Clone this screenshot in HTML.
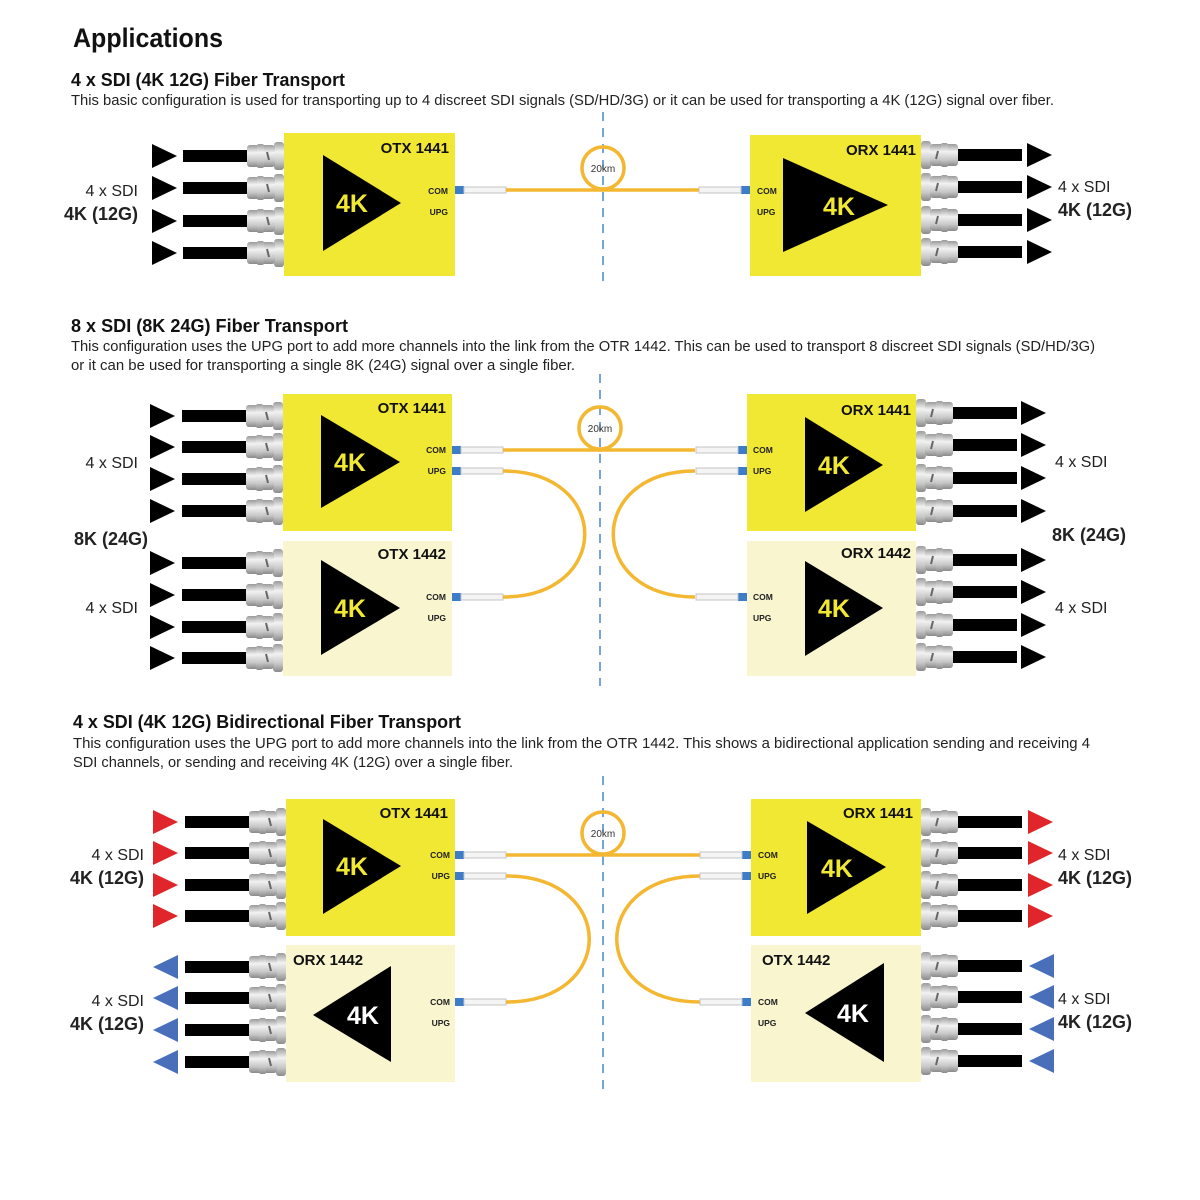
<!DOCTYPE html>
<html><head><meta charset="utf-8"><style>
html,body{margin:0;padding:0;background:#fff;width:1200px;height:1200px;overflow:hidden}
svg{display:block}
text{font-family:"Liberation Sans",sans-serif}
.h{font-weight:bold;font-size:18px;fill:#111}
.p{font-size:14.5px;fill:#222}
.bl{font-weight:bold;font-size:15px;fill:#111}
.sm{font-weight:bold;font-size:8.5px;fill:#222}
.k{font-weight:bold;font-size:25px}
.s1{font-size:16px;fill:#222}
.s2{font-weight:bold;font-size:18px;fill:#222}
.km{font-size:10px;fill:#333}
</style></head><body>
<svg width="1200" height="1200" viewBox="0 0 1200 1200" xmlns="http://www.w3.org/2000/svg">
<defs>
<linearGradient id="g" x1="0" y1="0" x2="0" y2="1">
<stop offset="0" stop-color="#9a9a9a"/><stop offset="0.35" stop-color="#f2f2f2"/><stop offset="0.7" stop-color="#c8c8c8"/><stop offset="1" stop-color="#8a8a8a"/></linearGradient>
<g id="b">
<rect x="0" y="-14" width="10" height="28" rx="3" fill="url(#g)"/>
<rect x="9" y="-11" width="28" height="22" rx="3" fill="url(#g)"/>
<rect x="20" y="-12" width="7" height="24" rx="2" fill="url(#g)"/>
<line x1="17" y1="-4" x2="15" y2="4" stroke="#666" stroke-width="2"/>
</g>
<g id="ro"><use href="#b"/><rect x="37" y="-6" width="64" height="12" fill="#000"/></g>
<g id="fc"><rect x="0" y="-4" width="9" height="8" fill="#3d7cc9"/><rect x="9" y="-3" width="42" height="6" fill="#f4f4f4" stroke="#c4c4c4" stroke-width="1"/></g>
<polygon id="ar" points="0,-12 0,12 25,0" fill="#000"/>
<polygon id="arR" points="0,-12 0,12 25,0" fill="#e0262a"/>
<polygon id="arB" points="25,-12 25,12 0,0" fill="#4a6fba"/>
</defs>

<text x="73" y="47" style="font-weight:bold;font-size:27px;fill:#111" textLength="150" lengthAdjust="spacingAndGlyphs">Applications</text>

<!-- ===== Section 1 ===== -->
<text x="71" y="86" class="h" textLength="274" lengthAdjust="spacingAndGlyphs">4 x SDI (4K 12G) Fiber Transport</text>
<text x="71" y="105" class="p" textLength="983" lengthAdjust="spacingAndGlyphs">This basic configuration is used for transporting up to 4 discreet SDI signals (SD/HD/3G) or it can be used for transporting a 4K (12G) signal over fiber.</text>
<line x1="603" y1="112" x2="603" y2="282" stroke="#4a86c8" stroke-width="1.5" stroke-dasharray="9,7"/>

<rect x="284" y="133" width="171" height="143" fill="#f1e833"/>
<polygon points="323,155 323,251 401,203" fill="#000"/>
<text x="352" y="212" class="k" fill="#f1e833" text-anchor="middle">4K</text>
<text x="449" y="153" class="bl" text-anchor="end">OTX 1441</text>
<text x="448" y="194" class="sm" text-anchor="end">COM</text>
<text x="448" y="215" class="sm" text-anchor="end">UPG</text>
<g transform="translate(284,156) scale(-1,1)"><use href="#ro"/></g>
<g transform="translate(284,188) scale(-1,1)"><use href="#ro"/></g>
<g transform="translate(284,221) scale(-1,1)"><use href="#ro"/></g>
<g transform="translate(284,253) scale(-1,1)"><use href="#ro"/></g>
<use href="#ar" x="152" y="156"/><use href="#ar" x="152" y="188"/><use href="#ar" x="152" y="221"/><use href="#ar" x="152" y="253"/>
<text x="138" y="196" class="s1" text-anchor="end">4 x SDI</text>
<text x="138" y="220" class="s2" text-anchor="end">4K (12G)</text>

<use href="#fc" x="455" y="190"/>
<line x1="506" y1="190" x2="700" y2="190" stroke="#f4b731" stroke-width="3.5"/>
<circle cx="603" cy="168" r="21" fill="none" stroke="#f4b731" stroke-width="3.5"/>
<text x="603" y="172" class="km" text-anchor="middle">20km</text>
<g transform="translate(750,190) scale(-1,1)"><use href="#fc"/></g>

<rect x="750" y="135" width="171" height="141" fill="#f1e833"/>
<polygon points="783,158 783,252 888,205" fill="#000"/>
<text x="839" y="215" class="k" fill="#f1e833" text-anchor="middle">4K</text>
<text x="916" y="155" class="bl" text-anchor="end">ORX 1441</text>
<text x="757" y="194" class="sm">COM</text>
<text x="757" y="215" class="sm">UPG</text>
<use href="#ro" x="921" y="155"/><use href="#ro" x="921" y="187"/><use href="#ro" x="921" y="220"/><use href="#ro" x="921" y="252"/>
<use href="#ar" x="1027" y="155"/><use href="#ar" x="1027" y="187"/><use href="#ar" x="1027" y="220"/><use href="#ar" x="1027" y="252"/>
<text x="1058" y="192" class="s1">4 x SDI</text>
<text x="1058" y="216" class="s2">4K (12G)</text>

<!-- ===== Section 2 ===== -->
<text x="71" y="332" class="h" textLength="277" lengthAdjust="spacingAndGlyphs">8 x SDI (8K 24G) Fiber Transport</text>
<text x="71" y="351" class="p" textLength="1024" lengthAdjust="spacingAndGlyphs">This configuration uses the UPG port to add more channels into the link from the OTR 1442. This can be used to transport 8 discreet SDI signals (SD/HD/3G)</text>
<text x="71" y="370" class="p" textLength="504" lengthAdjust="spacingAndGlyphs">or it can be used for transporting a single 8K (24G) signal over a single fiber.</text>
<line x1="600" y1="374" x2="600" y2="686" stroke="#4a86c8" stroke-width="1.5" stroke-dasharray="9,7"/>

<rect x="283" y="394" width="169" height="137" fill="#f1e833"/>
<rect x="283" y="541" width="169" height="135" fill="#f8f5cf"/>
<polygon points="321,415 321,508 400,462" fill="#000"/>
<text x="350" y="471" class="k" fill="#f1e833" text-anchor="middle">4K</text>
<polygon points="321,560 321,655 400,608" fill="#000"/>
<text x="350" y="617" class="k" fill="#f1e833" text-anchor="middle">4K</text>
<text x="446" y="413" class="bl" text-anchor="end">OTX 1441</text>
<text x="446" y="559" class="bl" text-anchor="end">OTX 1442</text>
<text x="446" y="453" class="sm" text-anchor="end">COM</text>
<text x="446" y="474" class="sm" text-anchor="end">UPG</text>
<text x="446" y="600" class="sm" text-anchor="end">COM</text>
<text x="446" y="621" class="sm" text-anchor="end">UPG</text>
<g transform="translate(283,416) scale(-1,1)"><use href="#ro"/></g>
<g transform="translate(283,447) scale(-1,1)"><use href="#ro"/></g>
<g transform="translate(283,479) scale(-1,1)"><use href="#ro"/></g>
<g transform="translate(283,511) scale(-1,1)"><use href="#ro"/></g>
<g transform="translate(283,563) scale(-1,1)"><use href="#ro"/></g>
<g transform="translate(283,595) scale(-1,1)"><use href="#ro"/></g>
<g transform="translate(283,627) scale(-1,1)"><use href="#ro"/></g>
<g transform="translate(283,658) scale(-1,1)"><use href="#ro"/></g>
<use href="#ar" x="150" y="416"/><use href="#ar" x="150" y="447"/><use href="#ar" x="150" y="479"/><use href="#ar" x="150" y="511"/>
<use href="#ar" x="150" y="563"/><use href="#ar" x="150" y="595"/><use href="#ar" x="150" y="627"/><use href="#ar" x="150" y="658"/>
<text x="138" y="468" class="s1" text-anchor="end">4 x SDI</text>
<text x="148" y="545" class="s2" text-anchor="end">8K (24G)</text>
<text x="138" y="613" class="s1" text-anchor="end">4 x SDI</text>

<use href="#fc" x="452" y="450"/>
<use href="#fc" x="452" y="471"/>
<use href="#fc" x="452" y="597"/>
<line x1="503" y1="450" x2="695" y2="450" stroke="#f4b731" stroke-width="3.5"/>
<circle cx="600" cy="428" r="21" fill="none" stroke="#f4b731" stroke-width="3.5"/>
<text x="600" y="432" class="km" text-anchor="middle">20km</text>
<path d="M503,471 C612,471 612,597 503,597" fill="none" stroke="#f4b731" stroke-width="3.5"/>
<path d="M695,471 C586,471 586,597 695,597" fill="none" stroke="#f4b731" stroke-width="3.5"/>
<g transform="translate(747,450) scale(-1,1)"><use href="#fc"/></g>
<g transform="translate(747,471) scale(-1,1)"><use href="#fc"/></g>
<g transform="translate(747,597) scale(-1,1)"><use href="#fc"/></g>

<rect x="747" y="394" width="169" height="137" fill="#f1e833"/>
<rect x="747" y="541" width="169" height="135" fill="#f8f5cf"/>
<polygon points="805,417 805,512 883,465" fill="#000"/>
<text x="834" y="474" class="k" fill="#f1e833" text-anchor="middle">4K</text>
<polygon points="805,561 805,656 883,608" fill="#000"/>
<text x="834" y="617" class="k" fill="#f1e833" text-anchor="middle">4K</text>
<text x="911" y="415" class="bl" text-anchor="end">ORX 1441</text>
<text x="911" y="558" class="bl" text-anchor="end">ORX 1442</text>
<text x="753" y="453" class="sm">COM</text>
<text x="753" y="474" class="sm">UPG</text>
<text x="753" y="600" class="sm">COM</text>
<text x="753" y="621" class="sm">UPG</text>
<use href="#ro" x="916" y="413"/><use href="#ro" x="916" y="445"/><use href="#ro" x="916" y="478"/><use href="#ro" x="916" y="511"/>
<use href="#ro" x="916" y="560"/><use href="#ro" x="916" y="592"/><use href="#ro" x="916" y="625"/><use href="#ro" x="916" y="657"/>
<use href="#ar" x="1021" y="413"/><use href="#ar" x="1021" y="445"/><use href="#ar" x="1021" y="478"/><use href="#ar" x="1021" y="511"/>
<use href="#ar" x="1021" y="560"/><use href="#ar" x="1021" y="592"/><use href="#ar" x="1021" y="625"/><use href="#ar" x="1021" y="657"/>
<text x="1055" y="467" class="s1">4 x SDI</text>
<text x="1052" y="541" class="s2">8K (24G)</text>
<text x="1055" y="613" class="s1">4 x SDI</text>

<!-- ===== Section 3 ===== -->
<text x="73" y="728" class="h" textLength="388" lengthAdjust="spacingAndGlyphs">4 x SDI (4K 12G) Bidirectional Fiber Transport</text>
<text x="73" y="748" class="p" textLength="1017" lengthAdjust="spacingAndGlyphs">This configuration uses the UPG port to add more channels into the link from the OTR 1442. This shows a bidirectional application sending and receiving 4</text>
<text x="73" y="767" class="p" textLength="440" lengthAdjust="spacingAndGlyphs">SDI channels, or sending and receiving 4K (12G) over a single fiber.</text>
<line x1="603" y1="776" x2="603" y2="1092" stroke="#4a86c8" stroke-width="1.5" stroke-dasharray="9,7"/>

<rect x="286" y="799" width="169" height="137" fill="#f1e833"/>
<rect x="286" y="945" width="169" height="137" fill="#f8f5cf"/>
<polygon points="323,819 323,914 401,866" fill="#000"/>
<text x="352" y="875" class="k" fill="#f1e833" text-anchor="middle">4K</text>
<polygon points="313,1015 391,966 391,1062" fill="#000"/>
<text x="363" y="1024" class="k" fill="#fff" text-anchor="middle">4K</text>
<text x="448" y="818" class="bl" text-anchor="end">OTX 1441</text>
<text x="293" y="965" class="bl">ORX 1442</text>
<text x="450" y="858" class="sm" text-anchor="end">COM</text>
<text x="450" y="879" class="sm" text-anchor="end">UPG</text>
<text x="450" y="1005" class="sm" text-anchor="end">COM</text>
<text x="450" y="1026" class="sm" text-anchor="end">UPG</text>
<g transform="translate(286,822) scale(-1,1)"><use href="#ro"/></g>
<g transform="translate(286,853) scale(-1,1)"><use href="#ro"/></g>
<g transform="translate(286,885) scale(-1,1)"><use href="#ro"/></g>
<g transform="translate(286,916) scale(-1,1)"><use href="#ro"/></g>
<g transform="translate(286,967) scale(-1,1)"><use href="#ro"/></g>
<g transform="translate(286,998) scale(-1,1)"><use href="#ro"/></g>
<g transform="translate(286,1030) scale(-1,1)"><use href="#ro"/></g>
<g transform="translate(286,1062) scale(-1,1)"><use href="#ro"/></g>
<use href="#arR" x="153" y="822"/><use href="#arR" x="153" y="853"/><use href="#arR" x="153" y="885"/><use href="#arR" x="153" y="916"/>
<use href="#arB" x="153" y="967"/><use href="#arB" x="153" y="998"/><use href="#arB" x="153" y="1030"/><use href="#arB" x="153" y="1062"/>
<text x="144" y="860" class="s1" text-anchor="end">4 x SDI</text>
<text x="144" y="884" class="s2" text-anchor="end">4K (12G)</text>
<text x="144" y="1006" class="s1" text-anchor="end">4 x SDI</text>
<text x="144" y="1030" class="s2" text-anchor="end">4K (12G)</text>

<use href="#fc" x="455" y="855"/>
<use href="#fc" x="455" y="876"/>
<use href="#fc" x="455" y="1002"/>
<line x1="506" y1="855" x2="700" y2="855" stroke="#f4b731" stroke-width="3.5"/>
<circle cx="603" cy="833" r="21" fill="none" stroke="#f4b731" stroke-width="3.5"/>
<text x="603" y="837" class="km" text-anchor="middle">20km</text>
<path d="M506,876 C617,876 617,1002 506,1002" fill="none" stroke="#f4b731" stroke-width="3.5"/>
<path d="M700,876 C589,876 589,1002 700,1002" fill="none" stroke="#f4b731" stroke-width="3.5"/>
<g transform="translate(751,855) scale(-1,1)"><use href="#fc"/></g>
<g transform="translate(751,876) scale(-1,1)"><use href="#fc"/></g>
<g transform="translate(751,1002) scale(-1,1)"><use href="#fc"/></g>

<rect x="751" y="799" width="170" height="137" fill="#f1e833"/>
<rect x="751" y="945" width="170" height="137" fill="#f8f5cf"/>
<polygon points="807,821 807,914 886,867" fill="#000"/>
<text x="837" y="877" class="k" fill="#f1e833" text-anchor="middle">4K</text>
<polygon points="805,1013 884,963 884,1062" fill="#000"/>
<text x="853" y="1022" class="k" fill="#fff" text-anchor="middle">4K</text>
<text x="913" y="818" class="bl" text-anchor="end">ORX 1441</text>
<text x="762" y="965" class="bl">OTX 1442</text>
<text x="758" y="858" class="sm">COM</text>
<text x="758" y="879" class="sm">UPG</text>
<text x="758" y="1005" class="sm">COM</text>
<text x="758" y="1026" class="sm">UPG</text>
<use href="#ro" x="921" y="822"/><use href="#ro" x="921" y="853"/><use href="#ro" x="921" y="885"/><use href="#ro" x="921" y="916"/>
<use href="#ro" x="921" y="966"/><use href="#ro" x="921" y="997"/><use href="#ro" x="921" y="1029"/><use href="#ro" x="921" y="1061"/>
<use href="#arR" x="1028" y="822"/><use href="#arR" x="1028" y="853"/><use href="#arR" x="1028" y="885"/><use href="#arR" x="1028" y="916"/>
<use href="#arB" x="1029" y="966"/><use href="#arB" x="1029" y="997"/><use href="#arB" x="1029" y="1029"/><use href="#arB" x="1029" y="1061"/>
<text x="1058" y="860" class="s1">4 x SDI</text>
<text x="1058" y="884" class="s2">4K (12G)</text>
<text x="1058" y="1004" class="s1">4 x SDI</text>
<text x="1058" y="1028" class="s2">4K (12G)</text>
</svg>
</body></html>
